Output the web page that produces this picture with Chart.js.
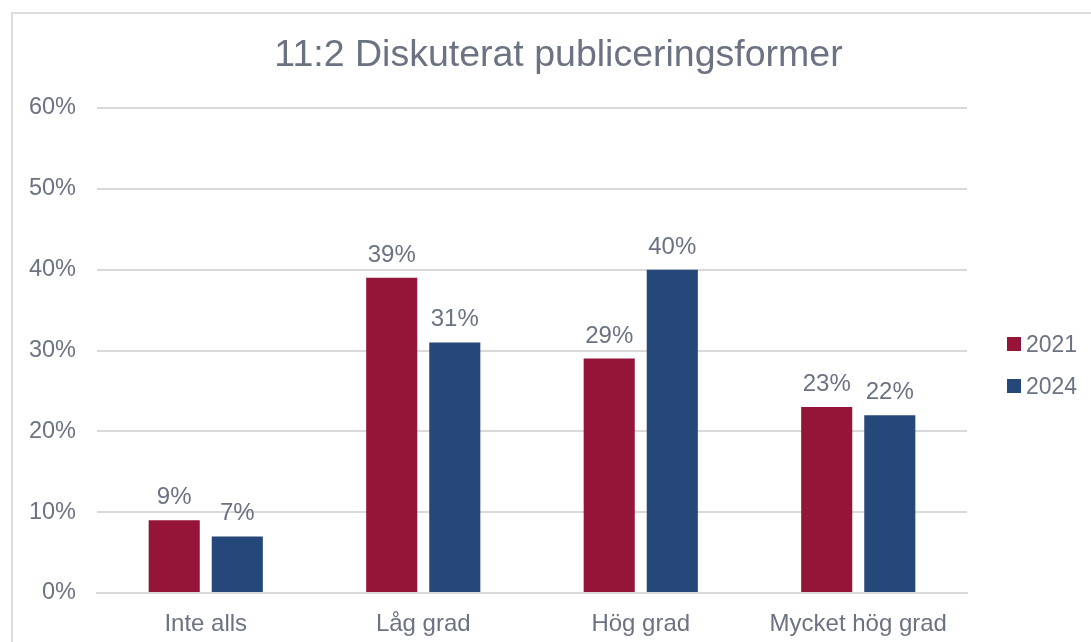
<!DOCTYPE html>
<html>
<head>
<meta charset="utf-8">
<script src="https://cdn.jsdelivr.net/npm/chart.js@4/dist/chart.umd.min.js"></script>
<style>
  html, body { margin: 0; padding: 0; background: #fff; overflow: hidden; }
  #frame { position: absolute; left: 11px; top: 12px; width: 1200px; height: 700px; border: 2px solid #dcdcdf; }
  #wrap { position: absolute; left: 0; top: 0; width: 1091px; height: 642px; }
</style>
</head>
<body>
<div id="frame"></div>
<div id="wrap"><canvas id="myChart"></canvas></div>
<script>
const categories = ['Inte alls', 'Låg grad', 'Hög grad', 'Mycket hög grad'];
const values2021 = [9, 39, 29, 23];
const values2024 = [7, 31, 40, 22];
const yTicks = [0, 10, 20, 30, 40, 50, 60];

const textColor = '#6b7282';
const font = 'Liberation Sans, Arial, sans-serif';

// percent labels above each bar
const barLabels = {
    id: 'barLabels',
    afterDatasetsDraw(chart) {
        const ctx = chart.ctx;
        ctx.save();
        ctx.font = '24px ' + font;
        ctx.fillStyle = textColor;
        ctx.textAlign = 'center';
        ctx.textBaseline = 'alphabetic';
        chart.data.datasets.forEach((ds, i) => {
            chart.getDatasetMeta(i).data.forEach((bar, j) => {
                ctx.fillText(ds.data[j] + '%', bar.x, bar.y - 16);
            });
        });
        ctx.restore();
    }
};

// legend drawn by hand so the gap and spacing match the original
const sideLegend = {
    id: 'sideLegend',
    afterDraw(chart) {
        const ctx = chart.ctx;
        const area = chart.chartArea;
        const mid = (area.top + area.bottom) / 2;
        ctx.save();
        ctx.font = '23px ' + font;
        ctx.textBaseline = 'alphabetic';
        ctx.textAlign = 'left';
        chart.data.datasets.forEach((ds, i) => {
            const top = mid - 13.5 + i * 42;
            ctx.fillStyle = ds.backgroundColor;
            ctx.fillRect(area.right + 40, top, 14, 14);
            ctx.fillStyle = textColor;
            ctx.fillText(ds.label, area.right + 59, top + 15);
        });
        ctx.restore();
    }
};

const renderChart = () => {
    var ctx = document.getElementById('myChart').getContext('2d');
    new Chart(ctx, {
        type: 'bar',
        data: {
            labels: categories,
            datasets: [
                { label: '2021', data: values2021, backgroundColor: '#941537' },
                { label: '2024', data: values2024, backgroundColor: '#264779' }
            ]
        },
        options: {
            responsive: true,
            maintainAspectRatio: false,
            animation: false,
            categoryPercentage: 0.58,
            barPercentage: 0.81,
            layout: { padding: { left: 26, right: 0, top: 33, bottom: 0 } },
            plugins: {
                title: {
                    display: true,
                    text: '11:2 Diskuterat publiceringsformer',
                    color: textColor,
                    font: { family: font, size: 37.5, weight: 'normal' },
                    padding: { top: 0, bottom: 30 }
                },
                legend: { display: false },
                tooltip: { enabled: false }
            },
            scales: {
                x: {
                    grid: { display: false },
                    border: { color: '#d9d9d9', width: 2 },
                    ticks: { color: textColor, font: { family: font, size: 24 }, padding: 9 },
                    afterFit: (s) => { s.height = 49; }
                },
                y: {
                    min: yTicks[0],
                    max: yTicks[yTicks.length - 1],
                    grid: { color: '#d9d9d9', lineWidth: 2, drawTicks: false },
                    border: { display: false },
                    ticks: {
                        stepSize: yTicks[1] - yTicks[0],
                        color: textColor,
                        font: { family: font, size: 23.5 },
                        padding: 21,
                        callback: (v) => v + '%'
                    },
                    afterFit: (s) => { s.width = 71; }
                },
                // empty axis that reserves room for the legend on the right
                side: {
                    position: 'right',
                    grid: { display: false },
                    border: { display: false },
                    ticks: { display: false },
                    afterFit: (s) => { s.width = 124; }
                }
            }
        },
        plugins: [barLabels, sideLegend]
    });
};

renderChart();
</script>
</body>
</html>
